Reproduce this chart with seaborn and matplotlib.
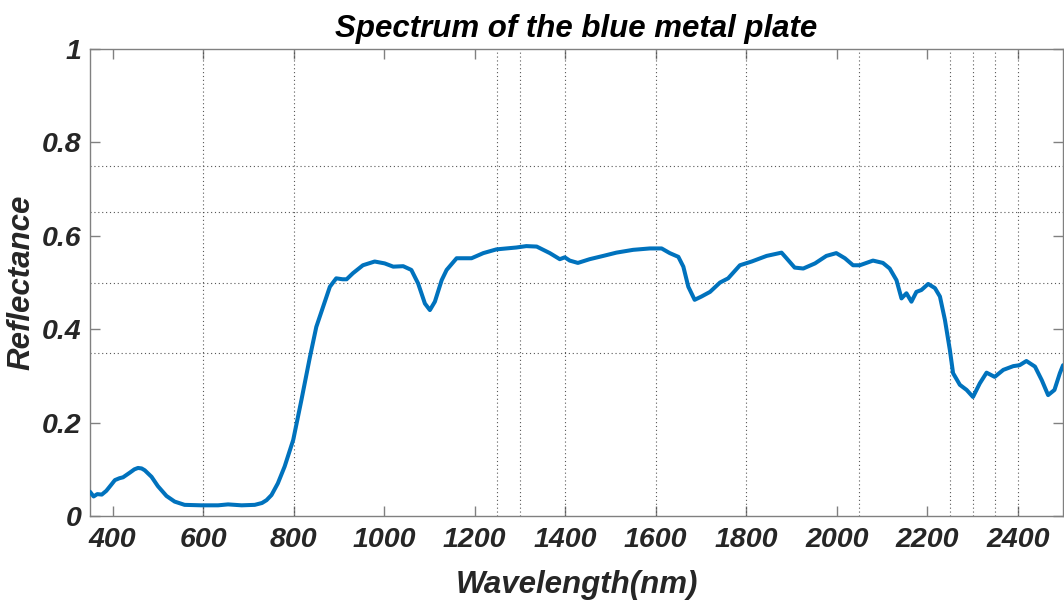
import numpy as np
import pandas as pd
import matplotlib
matplotlib.use("Agg")
import matplotlib.pyplot as plt
import seaborn as sns

# Reflectance spectrum of the blue metal plate
wavelength = [
    350, 358, 366, 376, 386, 396, 405, 415, 423, 438, 448, 456, 464, 471, 486,
    500, 519, 537, 559, 596, 633, 655, 685, 714, 730, 740, 751, 765, 780, 799,
    817, 836, 850, 865, 880, 894, 908, 917, 931, 953, 979, 1001, 1020, 1042,
    1060, 1075, 1090, 1101, 1112, 1127, 1138, 1160, 1193, 1219, 1248, 1292,
    1314, 1337, 1366, 1388, 1399, 1410, 1428, 1454, 1484, 1513, 1550, 1587,
    1613, 1631, 1650, 1661, 1672, 1686, 1701, 1720, 1742, 1760, 1786, 1812,
    1845, 1878, 1889, 1907, 1926, 1952, 1977, 1999, 2018, 2036, 2051, 2080,
    2102, 2117, 2132, 2143, 2154, 2165, 2176, 2187, 2202, 2217, 2228, 2239,
    2250, 2257, 2272, 2287, 2301, 2316, 2331, 2349, 2368, 2390, 2404, 2419,
    2438, 2453, 2467, 2481, 2493, 2500,
]
reflectance = [
    0.052, 0.042, 0.047, 0.046, 0.054, 0.066, 0.077, 0.081, 0.083, 0.093,
    0.100, 0.103, 0.102, 0.098, 0.084, 0.064, 0.043, 0.031, 0.024, 0.023,
    0.023, 0.025, 0.023, 0.024, 0.028, 0.034, 0.045, 0.070, 0.106, 0.163,
    0.248, 0.341, 0.405, 0.448, 0.491, 0.509, 0.507, 0.507, 0.520, 0.537,
    0.545, 0.541, 0.534, 0.535, 0.527, 0.498, 0.455, 0.441, 0.459, 0.505,
    0.527, 0.552, 0.552, 0.563, 0.571, 0.575, 0.578, 0.577, 0.563, 0.550,
    0.554, 0.547, 0.542, 0.550, 0.557, 0.564, 0.570, 0.573, 0.573, 0.563,
    0.555, 0.534, 0.491, 0.463, 0.470, 0.480, 0.500, 0.509, 0.537, 0.545,
    0.557, 0.564, 0.552, 0.532, 0.530, 0.541, 0.557, 0.563, 0.552, 0.537,
    0.537, 0.547, 0.542, 0.530, 0.505, 0.466, 0.477, 0.459, 0.480, 0.484,
    0.497, 0.488, 0.470, 0.420, 0.355, 0.306, 0.281, 0.270, 0.255, 0.284,
    0.307, 0.298, 0.313, 0.321, 0.323, 0.332, 0.320, 0.291, 0.259, 0.270,
    0.306, 0.323,
]

# Axis ticks and the reference grid positions (band markers)
x_ticks = [400, 600, 800, 1000, 1200, 1400, 1600, 1800, 2000, 2200, 2400]
y_ticks = [0, 0.2, 0.4, 0.6, 0.8, 1]
y_tick_labels = ["0", "0.2", "0.4", "0.6", "0.8", "1"]
grid_x = [600, 800, 1250, 1300, 1400, 1600, 1800, 2050, 2250, 2300, 2350, 2400]
grid_y = [0.35, 0.5, 0.65, 0.75]

df = pd.DataFrame({"Wavelength": wavelength, "Reflectance": reflectance})

sns.set_theme(style="white")
plt.rcParams["font.family"] = ["Liberation Sans", "DejaVu Sans"]

fig = plt.figure(figsize=(10.64, 6.05), dpi=100)
ax = fig.add_axes([0.0846, 0.147, 0.9145, 0.772])

sns.lineplot(data=df, x="Wavelength", y="Reflectance", ax=ax,
             color="#0072BD", linewidth=2.9, sort=False, zorder=3)

ax.set_xlim(350, 2500)
ax.set_ylim(0, 1)

ax.set_xticks(x_ticks)
ax.set_yticks(y_ticks)
ax.set_yticklabels(y_tick_labels)
# grid lines sit on minor ticks; keep those that coincide with major ticks
ax.xaxis.remove_overlapping_locs = False
ax.yaxis.remove_overlapping_locs = False
ax.set_xticks(grid_x, minor=True)
ax.set_yticks(grid_y, minor=True)

ax.grid(False, which="major")
ax.grid(True, which="minor", linestyle=(0, (1, 2.5)), color="#3a3a3a",
        linewidth=0.8, alpha=0.85)

for lab in ax.get_xticklabels() + ax.get_yticklabels():
    lab.set_fontsize(20.5)
    lab.set_fontweight("bold")
    lab.set_fontstyle("italic")
    lab.set_color("#262626")

ax.tick_params(which="major", direction="in", length=7, width=1.0,
               color="#808080", top=True, right=True,
               bottom=True, left=True)
ax.tick_params(axis="x", which="major", pad=8)
ax.tick_params(axis="y", which="major", pad=6)
ax.tick_params(which="minor", length=0)

for side in ["left", "right", "top", "bottom"]:
    ax.spines[side].set_visible(True)
    ax.spines[side].set_color("#808080")
    ax.spines[side].set_linewidth(1.0)

ax.set_title("Spectrum of the blue metal plate", fontsize=22.5,
             fontweight="bold", fontstyle="italic", color="black", pad=9)
ax.set_xlabel("Wavelength(nm)", fontsize=22.5, fontweight="bold",
              fontstyle="italic", color="#262626", labelpad=12)
ax.set_ylabel("Reflectance", fontsize=22.5, fontweight="bold",
              fontstyle="italic", color="#262626", labelpad=4)

fig.savefig("out.png", dpi=100)
